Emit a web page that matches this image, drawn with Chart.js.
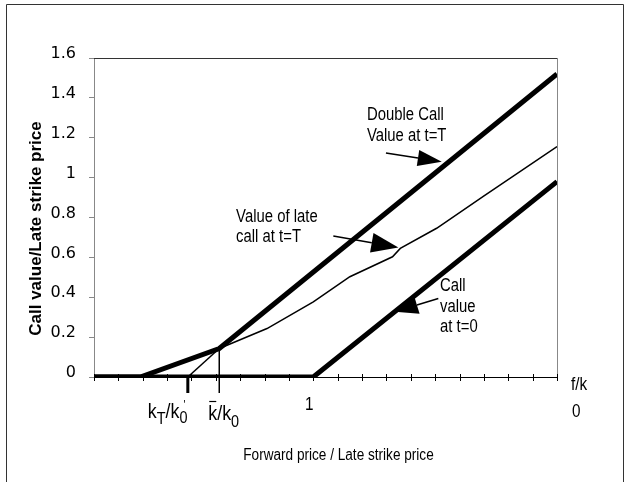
<!DOCTYPE html>
<html>
<head>
<meta charset="utf-8">
<script src="https://cdn.jsdelivr.net/npm/chart.js@4.4.1/dist/chart.umd.min.js"></script>
<style>
  html, body { margin: 0; padding: 0; background: #fff; }
  #wrap { width: 631px; height: 482px; }
</style>
</head>
<body>
<div id="wrap"><canvas id="myChart" width="631" height="482"></canvas></div>
<script>
// values (x = forward price / late strike price)
const callX = [0.1, 1.0, 2.0];
const callY = [0, 0, 0.98];

const doubleX = [0.1, 0.29, 0.614, 2.0];
const doubleY = [0, 0, 0.143, 1.52];

const lateX = [0.614, 0.81, 1.0, 1.15, 1.325, 1.357, 1.506, 1.696, 2.0];
const lateY = [0.143, 0.243, 0.377, 0.503, 0.603, 0.645, 0.746, 0.905, 1.156];

const extX = [0.485, 0.614];
const extY = [0, 0.143];

const kT = 0.485;
const kBar = 0.614;
const kinkY = 0.143;

const ctx = document.getElementById("myChart").getContext("2d");

function toPoints(xs, ys) {
  return xs.map((x, i) => ({ x: x, y: ys[i] }));
}

const sans = '"Liberation Sans", Arial, sans-serif';

// narrow text: Liberation Sans squeezed sideways
function narrow(c, s, x, y, size, align) {
  c.save();
  c.font = size + "px " + sans;
  c.translate(x, y);
  c.scale(0.85, 1);
  c.textAlign = align || "left";
  c.textBaseline = "alphabetic";
  c.fillText(s, 0, 0);
  const w = c.measureText(s).width * 0.85;
  c.restore();
  return w;
}

function runs(c, x, y, parts) {
  parts.forEach((p) => {
    x += narrow(c, p[0], x, y + (p[2] || 0), p[1]);
  });
  return x;
}

function arrow(c, x0, y0, x1, y1, len, half) {
  const a = Math.atan2(y1 - y0, x1 - x0);
  const bx = x1 - len * Math.cos(a);
  const by = y1 - len * Math.sin(a);
  c.beginPath();
  c.moveTo(x0, y0);
  c.lineTo(bx, by);
  c.lineWidth = 1.5;
  c.stroke();
  c.beginPath();
  c.moveTo(x1, y1);
  c.lineTo(bx + half * Math.sin(a), by - half * Math.cos(a));
  c.lineTo(bx - half * Math.sin(a), by + half * Math.cos(a));
  c.closePath();
  c.fill();
}

const frame = {
  id: "frame",
  beforeDatasetsDraw(chart) {
    const c = chart.ctx;
    const a = chart.chartArea;
    c.save();
    c.strokeStyle = "#333";
    c.lineWidth = 1;
    c.beginPath();
    c.moveTo(6.5, 482);
    c.lineTo(6.5, 4.5);
    c.lineTo(623.5, 4.5);
    c.lineTo(623.5, 482);
    c.stroke();
    // plot box: dark top, grey right, black x axis
    c.beginPath();
    c.moveTo(a.left, a.top + 0.5);
    c.lineTo(a.right, a.top + 0.5);
    c.stroke();
    c.strokeStyle = "#888";
    c.beginPath();
    c.moveTo(a.right + 0.5, a.top);
    c.lineTo(a.right + 0.5, a.bottom);
    c.stroke();
    c.strokeStyle = "#000";
    c.beginPath();
    c.moveTo(a.left, a.bottom + 0.5);
    c.lineTo(a.right, a.bottom + 0.5);
    c.stroke();
    c.restore();
  },
  afterDatasetsDraw(chart) {
    const c = chart.ctx;
    const a = chart.chartArea;
    const xs = chart.scales.x;
    const ys = chart.scales.y;
    const y0 = ys.getPixelForValue(0);
    c.save();
    c.strokeStyle = "#000";
    c.fillStyle = "#000";

    // x ticks crossing the axis
    c.lineWidth = 1;
    xs.ticks.forEach((t) => {
      const px = Math.round(xs.getPixelForValue(t.value)) + 0.5;
      c.beginPath();
      c.moveTo(px, y0 - 3);
      c.lineTo(px, y0 + 4);
      c.stroke();
    });

    // k_T/k_0 mark and the k-bar drop line
    const pT = xs.getPixelForValue(kT);
    c.lineWidth = 3;
    c.beginPath();
    c.moveTo(pT, y0);
    c.lineTo(pT, y0 + 16);
    c.stroke();
    const pB = xs.getPixelForValue(kBar);
    c.lineWidth = 1.5;
    c.beginPath();
    c.moveTo(pB, ys.getPixelForValue(kinkY));
    c.lineTo(pB, y0 + 16);
    c.stroke();

    // x tick labels
    const endT = runs(c, pT - 40, y0 + 41, [["k", 21], ["T", 17, 6], ["/k", 21], ["0", 17, 5]]);
    narrow(c, "'", endT - 4, y0 + 32, 12);
    const sB = pB - 11;
    runs(c, sB, y0 + 43, [["k", 21], ["/k", 21], ["0", 17, 7]]);
    c.lineWidth = 1.2;
    c.beginPath();
    c.moveTo(sB + 1, y0 + 24.5);
    c.lineTo(sB + 8, y0 + 24.5);
    c.stroke();
    narrow(c, "1", xs.getPixelForValue(1.0) - 4, y0 + 33, 18, "center");
    narrow(c, "f/k", a.right + 14, y0 + 13, 18);
    narrow(c, "0", a.right + 15, y0 + 40, 18);

    // axis titles
    narrow(c, "Forward price / Late strike price", (a.left + a.right) / 2 + 13, y0 + 83, 16, "center");
    c.save();
    c.translate(36, (a.top + a.bottom) / 2 + 11);
    c.rotate(-Math.PI / 2);
    c.font = "bold 17px " + sans;
    c.textAlign = "center";
    c.textBaseline = "middle";
    c.fillText("Call value/Late strike price", 0, 0);
    c.restore();

    // notes and arrows
    const X = (v) => xs.getPixelForValue(v);
    const Y = (v) => ys.getPixelForValue(v);
    narrow(c, "Double Call", X(1.22), Y(1.29), 17.5);
    narrow(c, "Value at t=T", X(1.22), Y(1.29) + 21, 17.5);
    arrow(c, X(1.298), Y(1.123), X(1.527), Y(1.08), 24, 8);

    narrow(c, "Value of late", X(0.683), Y(0.777), 17.5);
    narrow(c, "call at t=T", X(0.683), Y(0.777) + 20, 17.5);
    arrow(c, X(1.082), Y(0.707), X(1.349), Y(0.65), 27, 10);

    narrow(c, "Call", X(1.52), Y(0.432), 17.5);
    narrow(c, "value", X(1.52), Y(0.432) + 21, 17.5);
    narrow(c, "at t=0", X(1.52), Y(0.432) + 41, 17.5);
    arrow(c, X(1.513), Y(0.394), X(1.335), Y(0.327), 23, 9);

    c.restore();
  },
};

const data = {
  datasets: [
    {
      label: "Call value at t=0",
      data: toPoints(callX, callY),
      borderColor: "#000",
      borderWidth: 5,
    },
    {
      label: "Double Call Value at t=T",
      data: toPoints(doubleX, doubleY),
      borderColor: "#000",
      borderWidth: 5,
    },
    {
      label: "Value of late call at t=T",
      data: toPoints(lateX, lateY),
      borderColor: "#000",
      borderWidth: 1.5,
    },
    {
      label: "k_T/k_0 extension",
      data: toPoints(extX, extY),
      borderColor: "#000",
      borderWidth: 1.5,
    },
  ],
};

const config = {
  type: "line",
  data: data,
  options: {
    responsive: false,
    animation: false,
    layout: {
      padding: { left: 0, top: 58, right: 74, bottom: 105 },
    },
    elements: {
      point: { radius: 0 },
      line: { tension: 0, borderJoinStyle: "miter", borderCapStyle: "butt", fill: false },
    },
    plugins: {
      legend: { display: false },
      tooltip: { enabled: false },
    },
    scales: {
      x: {
        type: "linear",
        display: false,
        min: 0.1,
        max: 2.0,
        ticks: { stepSize: 0.1 },
      },
      y: {
        min: 0,
        max: 1.6,
        afterFit(scale) {
          scale.width = 94;
        },
        ticks: {
          stepSize: 0.2,
          padding: 13,
          labelOffset: -4,
          color: "#000",
          font: { family: '"DejaVu Sans", sans-serif', size: 16 },
          callback: (v) => String(parseFloat(v.toFixed(1))),
        },
        grid: {
          drawOnChartArea: false,
          drawTicks: true,
          tickLength: 5,
          color: "#888",
        },
        border: { color: "#888", width: 1 },
      },
    },
  },
  plugins: [frame],
};

const myChart = new Chart(ctx, config);
</script>
</body>
</html>
